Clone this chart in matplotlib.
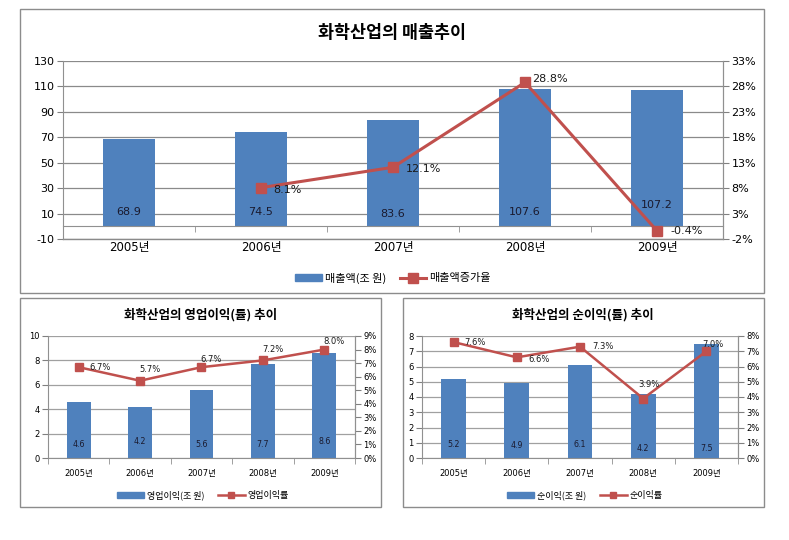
import matplotlib
matplotlib.use("Agg")
import matplotlib.pyplot as plt
from matplotlib.patches import Rectangle
from matplotlib.lines import Line2D
from matplotlib.ticker import FuncFormatter

plt.rcParams['font.family'] = ['DejaVu Sans', 'Noto Sans CJK KR']
plt.rcParams['axes.unicode_minus'] = False

years = ['2005년', '2006년', '2007년', '2008년', '2009년']

# Top chart
sales = [68.9, 74.5, 83.6, 107.6, 107.2]
sales_growth = [None, 8.1, 12.1, 28.8, -0.4]

# Bottom-left chart
op_profit = [4.6, 4.2, 5.6, 7.7, 8.6]
op_margin = [6.7, 5.7, 6.7, 7.2, 8.0]

# Bottom-right chart
net_profit = [5.2, 4.9, 6.1, 4.2, 7.5]
net_margin = [7.6, 6.6, 7.3, 3.9, 7.0]

BAR = '#4F81BD'
LINE = '#C0504D'
W, H = 789, 540

fig = plt.figure(figsize=(W / 100, H / 100), dpi=100)
fig.patch.set_facecolor('white')


def ax_rect(l, t, r, b):
    return [l / W, 1 - b / H, (r - l) / W, (b - t) / H]


def box(l, t, r, b):
    fig.add_artist(Rectangle((l / W, 1 - b / H), (r - l) / W, (b - t) / H,
                             transform=fig.transFigure, fill=False,
                             edgecolor='#8c8c8c', linewidth=1.0))


box(20, 9, 764, 293)
box(20, 298, 381, 507)
box(403, 298, 764, 507)

pct = FuncFormatter(lambda v, p: f'{v:.0f}%')


def make_chart(rect, bars, line, ylim, yticks, y2lim, y2ticks, tick_fs, cat_fs,
               bar_lab_fs, line_lab_fs, grid_color, bar_offsets, line_offsets,
               cat_pad, zero_spine=False):
    ax = fig.add_axes(rect)
    x = list(range(len(years)))
    ax.bar(x, bars, width=0.39, color=BAR, zorder=2)
    ax.set_xlim(-0.5, len(years) - 0.5)
    ax.set_ylim(*ylim)
    ax.set_yticks(yticks)
    ax.tick_params(axis='y', length=4, labelsize=tick_fs, color='#808080', pad=2)
    ax.yaxis.grid(True, color=grid_color, linewidth=0.9, zorder=0)
    ax.set_axisbelow(True)
    ax.spines['top'].set_visible(False)
    ax.spines['left'].set_color('#909090')
    ax.spines['right'].set_color('#909090')
    ax.spines['bottom'].set_color('#909090')
    if zero_spine:
        ax.spines['bottom'].set_position(('data', 0))
        ax.axhline(ylim[0], color=grid_color, linewidth=1.0, clip_on=False, zorder=1)
    ax.set_xticks(x)
    ax.set_xticklabels(years, fontsize=cat_fs)
    ax.tick_params(axis='x', which='major', length=0, pad=cat_pad)
    ax.set_xticks([i + 0.5 for i in range(len(years) - 1)] + [-0.5, len(years) - 0.5], minor=True)
    ax.tick_params(axis='x', which='minor', length=4, color='#909090', direction='out')
    for i, v in enumerate(bars):
        ax.annotate(f'{v:.1f}', (i, 0), xytext=(0, bar_offsets[i]),
                    textcoords='offset points', ha='center', va='center',
                    fontsize=bar_lab_fs, color='#1a1a2e', zorder=5)

    ax2 = ax.twinx()
    ax2.set_ylim(*y2lim)
    ax2.set_yticks(y2ticks)
    ax2.yaxis.set_major_formatter(pct)
    ax2.tick_params(axis='y', length=4, labelsize=tick_fs, color='#808080', pad=2)
    for s in ['top', 'left', 'bottom']:
        ax2.spines[s].set_visible(False)
    ax2.spines['right'].set_color('#909090')
    xs = [i for i, v in enumerate(line) if v is not None]
    ys = [v for v in line if v is not None]
    lw = 2.2 if bar_lab_fs > 7 else 1.8
    ms = 7.5 if bar_lab_fs > 7 else 6
    ax2.plot(xs, ys, color=LINE, linewidth=lw, marker='s', markersize=ms, zorder=3)
    for i, v in zip(xs, ys):
        dx, dy, ha = line_offsets[i]
        ax2.annotate(f'{v:.1f}%', (i, v), xytext=(dx, dy), textcoords='offset points',
                     ha=ha, va='center', fontsize=line_lab_fs, color='#1a1a1a', zorder=6)
    return ax, ax2


# ---------- Top chart ----------
make_chart(ax_rect(63, 61, 723, 239), sales, sales_growth,
           (-10, 130), list(range(-10, 131, 20)),
           (-2, 33), list(range(-2, 34, 5)),
           tick_fs=8, cat_fs=8.5, bar_lab_fs=8, line_lab_fs=8,
           grid_color='#8a8a8a',
           bar_offsets=[10, 10, 9, 10, 15],
           line_offsets={1: (9, -1.5, 'left'), 2: (9, -1, 'left'),
                         3: (5, 2.5, 'left'), 4: (10, 0, 'left')},
           cat_pad=10.5, zero_spine=True)
fig.text(392 / W, 1 - 33 / H, '화학산업의 매출추이', ha='center', va='center',
         fontsize=12.5, fontweight='bold', family=['Noto Sans CJK KR', 'DejaVu Sans'])

h_bar = Rectangle((0, 0), 1, 1, color=BAR)
h_line = Line2D([], [], color=LINE, linewidth=2.2, marker='s', markersize=7)
fig.legend([h_bar, h_line], ['매출액(조 원)', '매출액증가율'],
           loc='center', bbox_to_anchor=(393 / W, 1 - 278 / H), ncol=2,
           frameon=False, handlelength=2.4, handletextpad=0.3,
           columnspacing=1.2, prop={'family': ['Noto Sans CJK KR'], 'size': 8})

# ---------- Bottom-left chart ----------
make_chart(ax_rect(48, 336, 355, 458), op_profit, op_margin,
           (0, 10), list(range(0, 11, 2)),
           (0, 9), list(range(0, 10, 1)),
           tick_fs=6, cat_fs=6, bar_lab_fs=5.7, line_lab_fs=6,
           grid_color='#a0a0a0',
           bar_offsets=[10, 12, 9.5, 9.5, 12],
           line_offsets={0: (8, 0, 'left'), 1: (7, 8, 'center'), 2: (7, 5.5, 'center'),
                         3: (7, 8, 'center'), 4: (7, 6, 'center')},
           cat_pad=8)
fig.text(201 / W, 1 - 315 / H, '화학산업의 영업이익(률) 추이', ha='center', va='center',
         fontsize=9, fontweight='bold', family=['Noto Sans CJK KR', 'DejaVu Sans'])
h_line2 = Line2D([], [], color=LINE, linewidth=1.8, marker='s', markersize=4.5)
fig.legend([h_bar, h_line2], ['영업이익(조 원)', '영업이익률'],
           loc='center', bbox_to_anchor=(203 / W, 1 - 495 / H), ncol=2,
           frameon=False, handlelength=3.0, handletextpad=0.3,
           columnspacing=1.5, prop={'family': ['Noto Sans CJK KR'], 'size': 6.5})

# ---------- Bottom-right chart ----------
make_chart(ax_rect(422, 336, 738, 458), net_profit, net_margin,
           (0, 8), list(range(0, 9, 1)),
           (0, 8), list(range(0, 9, 1)),
           tick_fs=6, cat_fs=6, bar_lab_fs=5.7, line_lab_fs=6,
           grid_color='#a0a0a0',
           bar_offsets=[10, 9, 10, 7, 7],
           line_offsets={0: (8, -0.5, 'left'), 1: (8, -1.5, 'left'), 2: (9, 0, 'left'),
                         3: (4, 10, 'center'), 4: (5, 5, 'center')},
           cat_pad=8)
fig.text(583 / W, 1 - 315 / H, '화학산업의 순이익(률) 추이', ha='center', va='center',
         fontsize=9, fontweight='bold', family=['Noto Sans CJK KR', 'DejaVu Sans'])
fig.legend([h_bar, h_line2], ['순이익(조 원)', '순이익률'],
           loc='center', bbox_to_anchor=(585 / W, 1 - 495 / H), ncol=2,
           frameon=False, handlelength=3.0, handletextpad=0.3,
           columnspacing=1.5, prop={'family': ['Noto Sans CJK KR'], 'size': 6.5})

fig.savefig('out.png', dpi=100, facecolor='white')
